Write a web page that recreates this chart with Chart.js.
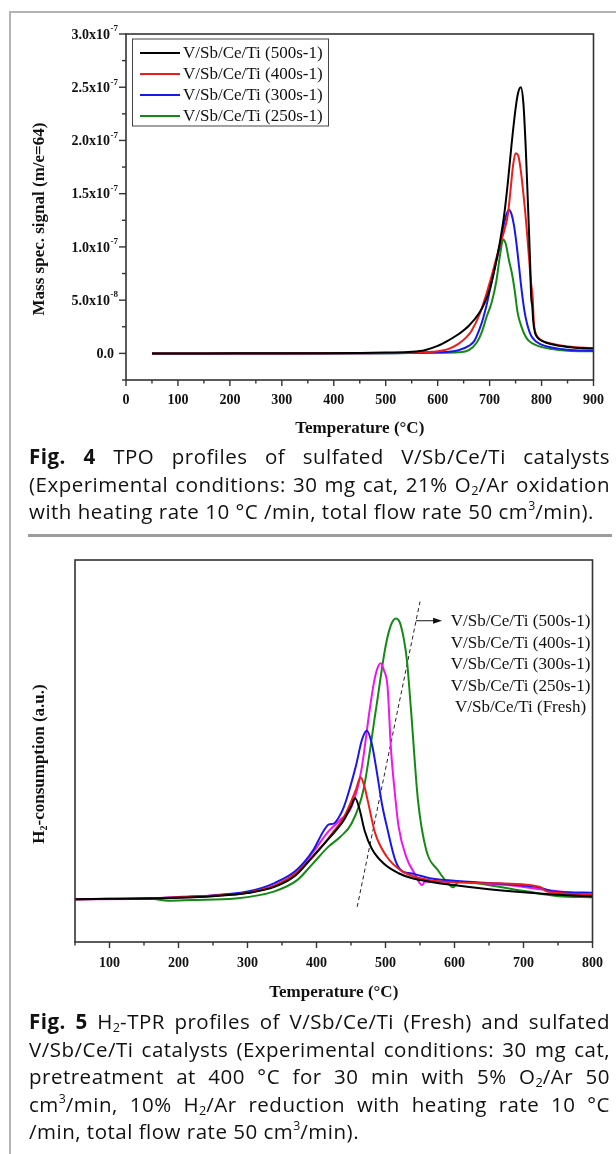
<!DOCTYPE html>
<html><head><meta charset="utf-8">
<script src="https://cdn.jsdelivr.net/npm/chart.js@4/dist/chart.umd.min.js"></script>
<style>
html,body{margin:0;padding:0;background:#fff;}
body{width:616px;height:1154px;position:relative;overflow:hidden;}
.bl{position:absolute;left:9px;top:11px;width:2px;height:1143px;background:#b4b4b4;}
.bt{position:absolute;left:9px;top:11px;width:607px;height:2px;background:#b4b4b4;}
#c1{position:absolute;left:0;top:0;}
#c2{position:absolute;left:0;top:540px;}
.cap{position:absolute;left:29px;width:581px;font-family:'Open Sans','Noto Sans',sans-serif;font-size:20.5px;letter-spacing:0.5px;color:#111;}
.cap div{height:27.6px;line-height:27.6px;white-space:nowrap;}
.j{text-align:justify;text-align-last:justify;}
sub{font-size:0.62em;line-height:0;vertical-align:-0.25em;letter-spacing:0;}
sup{font-size:0.6em;line-height:0;vertical-align:0.75em;letter-spacing:0;}
.rule{position:absolute;left:28px;top:534px;width:584px;height:3px;background:#9c9c9c;}
</style>
</head><body>
<div class="bl"></div><div class="bt"></div>
<canvas id="c1" width="616" height="445"></canvas>
<div class="cap" style="top:443px">
<div class="j"><b>Fig. 4</b> TPO profiles of sulfated V/Sb/Ce/Ti catalysts</div>
<div class="j">(Experimental conditions: 30 mg cat, 21% O<sub>2</sub>/Ar oxidation</div>
<div>with heating rate 10 °C /min, total flow rate 50 cm<sup>3</sup>/min).</div>
</div>
<div class="rule"></div>
<canvas id="c2" width="616" height="470"></canvas>
<div class="cap" style="top:1008px">
<div class="j"><b>Fig. 5</b> H<sub>2</sub>-TPR profiles of V/Sb/Ce/Ti (Fresh) and sulfated</div>
<div class="j">V/Sb/Ce/Ti catalysts (Experimental conditions: 30 mg cat,</div>
<div class="j">pretreatment at 400 °C for 30 min with 5% O<sub>2</sub>/Ar 50</div>
<div class="j">cm<sup>3</sup>/min, 10% H<sub>2</sub>/Ar reduction with heating rate 10 °C</div>
<div>/min, total flow rate 50 cm<sup>3</sup>/min).</div>
</div>
<script>
// ---------------- Fig. 4 (TPO) data ----------------
const tpoLabels = ['V/Sb/Ce/Ti (500s-1)','V/Sb/Ce/Ti (400s-1)','V/Sb/Ce/Ti (300s-1)','V/Sb/Ce/Ti (250s-1)'];
const tpoColors = ['#000000','#ee1c1c','#1818ee','#148a14'];
const tpoT500 = [50,150,250,350,450,500,550,575,600,620,640,660,680,690,700,710,720,728,735,742,750,755,760,765,770,775,778,780,782,784,787,792,800,820,850,900];
const tpoS500 = [0,0,0.001e-7,0.002e-7,0.004e-7,0.008e-7,0.015e-7,0.03e-7,0.07e-7,0.12e-7,0.18e-7,0.26e-7,0.38e-7,0.47e-7,0.6e-7,0.8e-7,1.05e-7,1.3e-7,1.6e-7,1.95e-7,2.3e-7,2.45e-7,2.5e-7,2.35e-7,1.88e-7,1.25e-7,0.85e-7,0.53e-7,0.45e-7,0.3e-7,0.2e-7,0.15e-7,0.12e-7,0.085e-7,0.06e-7,0.045e-7];
const tpoT400 = [50,300,450,500,550,600,620,640,655,665,681,692,700,710,720,728,735,740,745,750,755,760,765,770,775,780,783,785,788,793,800,820,850,900];
const tpoS400 = [0,0,0.002e-7,0.003e-7,0.006e-7,0.02e-7,0.04e-7,0.09e-7,0.15e-7,0.21e-7,0.37e-7,0.53e-7,0.66e-7,0.84e-7,1.02e-7,1.15e-7,1.3e-7,1.52e-7,1.76e-7,1.88e-7,1.86e-7,1.72e-7,1.5e-7,1.25e-7,0.95e-7,0.65e-7,0.52e-7,0.3e-7,0.2e-7,0.15e-7,0.12e-7,0.09e-7,0.065e-7,0.05e-7];
const tpoT300 = [50,300,500,600,640,660,671,680,687,695,703,712,720,727,732,737,742,747,752,757,761,767,772,777,782,790,805,850,900];
const tpoS300 = [0,0,0.002e-7,0.01e-7,0.03e-7,0.07e-7,0.12e-7,0.22e-7,0.32e-7,0.47e-7,0.65e-7,0.85e-7,1.02e-7,1.2e-7,1.3e-7,1.35e-7,1.31e-7,1.2e-7,1.02e-7,0.8e-7,0.62e-7,0.4e-7,0.28e-7,0.2e-7,0.15e-7,0.11e-7,0.073e-7,0.035e-7,0.025e-7];
const tpoT250 = [50,300,500,600,640,660,675,685,694,704,713,720,726,731,737,743,748,754,760,767,775,793,820,850,900];
const tpoS250 = [0,0,0.001e-7,0.005e-7,0.01e-7,0.03e-7,0.1e-7,0.2e-7,0.34e-7,0.48e-7,0.68e-7,0.92e-7,1.07e-7,1.03e-7,0.88e-7,0.75e-7,0.6e-7,0.38e-7,0.27e-7,0.18e-7,0.12e-7,0.07e-7,0.04e-7,0.025e-7,0.02e-7];
const tpoXTicks = [0,100,200,300,400,500,600,700,800,900];
const tpoYVals = [0,5e-8,1e-7,1.5e-7,2e-7,2.5e-7,3e-7];
const tpoYMant = ['0.0','5.0x10','1.0x10','1.5x10','2.0x10','2.5x10','3.0x10'];
const tpoYExp  = ['','-8','-7','-7','-7','-7','-7'];

// ---------------- Fig. 5 (H2-TPR) data ----------------
const tprLabels = ['V/Sb/Ce/Ti (500s-1)','V/Sb/Ce/Ti (400s-1)','V/Sb/Ce/Ti (300s-1)','V/Sb/Ce/Ti (250s-1)','V/Sb/Ce/Ti (Fresh)'];
const tprColors = ['#000000','#ee1c1c','#1818ee','#f014f0','#148a14'];
const tprT500 = [50,100,150,200,250,300,340,370,395,420,440,450,456,462,470,480,497,519,540,564,598,650,700,756,800];
const tprV500 = [11.2,11.3,11.4,11.6,12.0,12.8,14.5,17.5,22.5,27.5,32,35.5,37.6,35,29,24.5,20.6,18,16.6,15.8,14.9,13.8,13.0,12.3,11.9];
const tprT400 = [50,150,200,250,300,340,370,395,423,440,457,464,469,474,485,502,525,564,649,723,734,800];
const tprV400 = [11.2,11.4,11.7,12.1,12.9,14.8,18,22.3,28.5,32.8,39.8,43.1,41,37.2,28.5,22.3,18.4,16.2,15.4,14.5,13.2,12.4];
const tprT300 = [50,150,200,250,300,340,372,395,410,418,425,432,440,457,466,473,480,487,495,502,514,525,536,564,620,700,723,745,800];
const tprV300 = [11.2,11.4,11.7,12.2,13.2,15.5,19,24,29,30.8,31,32.5,35.5,46,53,55.3,52,45,36,30.2,21.5,18.4,18,16.7,15.8,14.8,14.3,13.2,12.9];
const tprT250 = [50,150,200,250,300,340,370,395,417,434,451,465,477,483,488,493,498,503,508,513,519,530,542,553,557,593,677,734,800];
const tprV250 = [11.2,11.3,11.8,12.2,13,14.8,18,23.5,28.9,31.9,35.5,45,60.7,67.7,71.5,73,71,66.8,50.3,40,30.2,22.3,18,14.9,15.8,15.8,14.9,13.6,12.3];
const tprTFresh = [50,100,160,185,220,282,338,372,395,417,435,451,468,486,500,508,515,522,531,537,547,559,576,593,598,604,610,649,706,751,800];
const tprVFresh = [11.2,11.3,11.3,10.8,11.0,11.4,13.2,16.2,20.6,24.9,27.6,31.1,39.8,60.7,77.3,83,84.7,83,73.8,60.7,37.2,24.1,18.8,14.9,14.3,15.5,15.8,14.9,13.2,12.0,11.7];
const tprGuideT = [459,550];
const tprGuideV = [9.2,89.1];
const tprArrowT = [544,582];
const tprArrowV = 84.1;
const tprXTicks = [100,200,300,400,500,600,700,800];

// ---------------- helpers ----------------
const SERIF = '"Liberation Serif","Times New Roman",serif';
function pts(xs, ys){ return xs.map((x,i)=>({x:x, y:ys[i]})); }
function seg(ctx,x1,y1,x2,y2){ ctx.beginPath(); ctx.moveTo(x1,y1); ctx.lineTo(x2,y2); ctx.stroke(); }
function frame(ctx,a){ ctx.strokeStyle='#333'; ctx.lineWidth=1.6; ctx.strokeRect(a.left,a.top,a.right-a.left,a.bottom-a.top); }
function xTickMarks(ctx,a,x,lo,hi){
  ctx.strokeStyle='#333'; ctx.lineWidth=1.4;
  for(let v=lo; v<=hi; v+=50){ const px=x.getPixelForValue(v); const len=(v%100===0)?6:3.5; seg(ctx,px,a.bottom,px,a.bottom+len); }
}
function lineDS(label,color,xs,ys){
  return {label:label,data:pts(xs,ys),borderColor:color,backgroundColor:color,borderWidth:2,pointRadius:0,tension:0.4,cubicInterpolationMode:'monotone',fill:false};
}

// ---------------- Chart 1 ----------------
const deco1 = {
  id:'deco1',
  afterDraw(chart){
    const {ctx, chartArea:a, scales:{x,y}} = chart;
    ctx.save();
    frame(ctx,a);
    xTickMarks(ctx,a,x,0,900);
    ctx.strokeStyle='#333'; ctx.lineWidth=1.4;
    for(let k=-1;k<=12;k++){ const py=y.getPixelForValue(k*2.5e-8); const len=(k%2===0)?7:4; seg(ctx,a.left-len,py,a.left,py); }
    ctx.fillStyle='#111'; ctx.textBaseline='middle';
    tpoYVals.forEach((v,i)=>{
      const py=y.getPixelForValue(v);
      const expRight=a.left-8;
      if(tpoYExp[i]){
        ctx.font='bold 9px '+SERIF; ctx.textAlign='right';
        const ew=ctx.measureText(tpoYExp[i]).width;
        ctx.fillText(tpoYExp[i],expRight,py-5);
        ctx.font='bold 14px '+SERIF;
        ctx.fillText(tpoYMant[i],expRight-ew-0.5,py+1);
      } else {
        ctx.font='bold 14px '+SERIF; ctx.textAlign='right';
        ctx.fillText(tpoYMant[i],a.left-12,py+1);
      }
    });
    ctx.font='bold 17px '+SERIF; ctx.textAlign='center'; ctx.textBaseline='middle';
    ctx.fillText('Temperature (°C)',(a.left+a.right)/2,a.bottom+49);
    ctx.save(); ctx.translate(40,(a.top+a.bottom)/2+12); ctx.rotate(-Math.PI/2);
    ctx.fillText('Mass spec. signal (m/e=64)',0,0); ctx.restore();
    const lx=a.left+6, ly=a.top+4.5;
    ctx.strokeStyle='#444'; ctx.lineWidth=1; ctx.strokeRect(lx+0.5,ly+0.5,196,87);
    ctx.font='17px '+SERIF; ctx.textAlign='left';
    chart.data.datasets.forEach((d,i)=>{
      const yy=ly+14.5+i*21;
      ctx.strokeStyle=d.borderColor; ctx.lineWidth=2; seg(ctx,lx+8,yy,lx+48,yy);
      ctx.fillStyle='#111'; ctx.fillText(d.label,lx+51,yy+1);
    });
    ctx.restore();
  }
};
new Chart(document.getElementById('c1'),{
  type:'line',
  data:{datasets:[
    lineDS(tpoLabels[0],tpoColors[0],tpoT500,tpoS500),
    lineDS(tpoLabels[1],tpoColors[1],tpoT400,tpoS400),
    lineDS(tpoLabels[2],tpoColors[2],tpoT300,tpoS300),
    lineDS(tpoLabels[3],tpoColors[3],tpoT250,tpoS250)
  ]},
  options:{
    responsive:false, animation:false, devicePixelRatio:1,
    layout:{padding:{left:0,right:20,top:34,bottom:0}},
    plugins:{legend:{display:false},tooltip:{enabled:false}},
    scales:{
      x:{type:'linear',min:0,max:900,
        afterBuildTicks(s){ s.ticks=tpoXTicks.map(v=>({value:v})); },
        afterFit(s){ s.height=65; },
        grid:{display:false,drawTicks:false}, border:{display:false},
        ticks:{padding:12,autoSkip:false,maxRotation:0,color:'#111',font:{family:SERIF,size:14,weight:'bold'}}},
      y:{type:'linear',min:-2.5e-8,max:3e-7,
        afterFit(s){ s.width=126; },
        grid:{display:false,drawTicks:false}, border:{display:false},
        ticks:{display:false}}
    }
  },
  plugins:[deco1]
});

// ---------------- Chart 2 ----------------
const deco2 = {
  id:'deco2',
  afterDraw(chart){
    const {ctx, chartArea:a, scales:{x,y}} = chart;
    ctx.save();
    frame(ctx,a);
    xTickMarks(ctx,a,x,50,800);
    ctx.fillStyle='#111';
    ctx.font='bold 17px '+SERIF; ctx.textAlign='center'; ctx.textBaseline='middle';
    ctx.fillText('Temperature (°C)',(a.left+a.right)/2,a.bottom+51);
    ctx.save(); ctx.translate(40,(a.top+a.bottom)/2+13); ctx.rotate(-Math.PI/2);
    const t1='H', t2='2', t3='-consumption (a.u.)';
    ctx.font='bold 17px '+SERIF; const w1=ctx.measureText(t1).width, w3=ctx.measureText(t3).width;
    ctx.font='bold 10px '+SERIF; const w2=ctx.measureText(t2).width;
    let sx=-(w1+w2+w3)/2; ctx.textAlign='left';
    ctx.font='bold 17px '+SERIF; ctx.fillText(t1,sx,0); sx+=w1;
    ctx.font='bold 10px '+SERIF; ctx.fillText(t2,sx,4); sx+=w2;
    ctx.font='bold 17px '+SERIF; ctx.fillText(t3,sx,0);
    ctx.restore();
    const ay=y.getPixelForValue(tprArrowV), ax1=x.getPixelForValue(tprArrowT[0]), ax2=x.getPixelForValue(tprArrowT[1]);
    ctx.strokeStyle='#111'; ctx.lineWidth=1; seg(ctx,ax1,ay,ax2-6,ay);
    ctx.beginPath(); ctx.moveTo(ax2,ay); ctx.lineTo(ax2-9,ay-3); ctx.lineTo(ax2-9,ay+3); ctx.closePath(); ctx.fill();
    ctx.font='17px '+SERIF; ctx.textAlign='center';
    const cx=a.right-72;
    tprLabels.forEach((t,i)=>{ ctx.fillText(t,cx,ay+1+i*21.5); });
    ctx.restore();
  }
};
const guide = {label:'guide',data:pts(tprGuideT,tprGuideV),borderColor:'#222',borderWidth:1,borderDash:[4,3],pointRadius:0,tension:0,fill:false};
new Chart(document.getElementById('c2'),{
  type:'line',
  data:{datasets:[
    lineDS(tprLabels[0],tprColors[0],tprT500,tprV500),
    lineDS(tprLabels[1],tprColors[1],tprT400,tprV400),
    lineDS(tprLabels[2],tprColors[2],tprT300,tprV300),
    lineDS(tprLabels[3],tprColors[3],tprT250,tprV250),
    lineDS(tprLabels[4],tprColors[4],tprTFresh,tprVFresh),
    guide
  ]},
  options:{
    responsive:false, animation:false, devicePixelRatio:1,
    layout:{padding:{left:0,right:20,top:20,bottom:0}},
    plugins:{legend:{display:false},tooltip:{enabled:false}},
    scales:{
      x:{type:'linear',min:50,max:800,
        afterBuildTicks(s){ s.ticks=tprXTicks.map(v=>({value:v})); },
        afterFit(s){ s.height=68; },
        grid:{display:false,drawTicks:false}, border:{display:false},
        ticks:{padding:13,autoSkip:false,maxRotation:0,color:'#111',font:{family:SERIF,size:14,weight:'bold'}}},
      y:{type:'linear',min:0,max:100,
        afterFit(s){ s.width=75; },
        grid:{display:false,drawTicks:false}, border:{display:false},
        ticks:{display:false}}
    }
  },
  plugins:[deco2]
});
</script>
</body></html>
